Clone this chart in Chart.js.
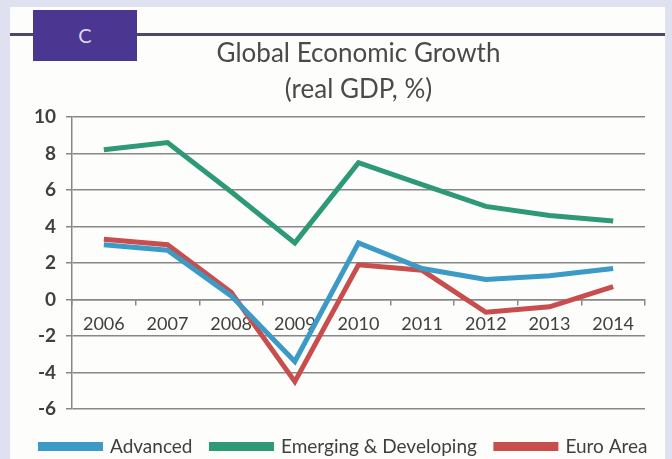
<!DOCTYPE html>
<html>
<head>
<meta charset="utf-8">
<script src="https://cdn.jsdelivr.net/npm/chart.js@4.4.0/dist/chart.umd.min.js"></script>
<style>
  html, body { margin: 0; padding: 0; width: 672px; height: 459px; overflow: hidden; background: #dfe0f0; }
  #panel { position: absolute; left: 10px; top: 7px; width: 655px; height: 452px; background: #fdfdfb; }
  #rule { position: absolute; left: 10px; top: 33px; width: 655px; height: 3px; background: #4a4872; }
  #tag { position: absolute; left: 33px; top: 10px; width: 104px; height: 51px; background: #4b3791;
         color: #ddd6f4; font: 20px Lato, sans-serif; text-align: center; line-height: 51px; }
  #wrap { position: absolute; left: 16px; top: 0; width: 656px; height: 466px; }
</style>
</head>
<body>
<div id="panel"></div>
<div id="rule"></div>
<div id="tag">C</div>
<div id="wrap"><canvas id="growth" width="656" height="466"></canvas></div>
<script>
const years = ['2006', '2007', '2008', '2009', '2010', '2011', '2012', '2013', '2014'];
const advanced = [3.0, 2.7, 0.2, -3.4, 3.1, 1.7, 1.1, 1.3, 1.7];
const emerging = [8.2, 8.6, 5.9, 3.1, 7.5, 6.3, 5.1, 4.6, 4.3];
const euroArea = [3.3, 3.0, 0.4, -4.5, 1.9, 1.6, -0.7, -0.4, 0.7];

const gridGrey = '#878787';
const textGrey = '#404040';

function series(label, data, color) {
  return {
    label: label,
    data: data,
    borderColor: color,
    backgroundColor: color,
    borderWidth: 5,
    pointRadius: 0,
    tension: 0
  };
}

new Chart(document.getElementById('growth'), {
  type: 'line',
  data: {
    labels: years,
    datasets: [
      series('Advanced', advanced, '#3b9ac6'),
      series('Emerging & Developing', emerging, '#2e9977'),
      series('Euro Area', euroArea, '#c84e4e')
    ]
  },
  options: {
    responsive: false,
    animation: false,
    layout: { padding: 0 },
    plugins: {
      tooltip: { enabled: false },
      title: {
        display: true,
        fullSize: false,
        text: ['Global Economic Growth', '(real GDP, %)'],
        color: '#4a4a4a',
        font: { family: 'Lato', size: 26, weight: 'normal', lineHeight: 36 / 26 },
        padding: { top: 36, bottom: 9 }
      },
      legend: {
        position: 'bottom',
        labels: {
          color: textGrey,
          font: { family: 'Lato', size: 19 },
          boxWidth: 60,
          boxHeight: 4,
          padding: 19
        }
      }
    },
    scales: {
      x: {
        position: { y: 0 },
        offset: true,
        grid: { drawOnChartArea: false, offset: true, tickLength: 5, color: gridGrey, lineWidth: 1.5 },
        border: { color: gridGrey, width: 1.5 },
        ticks: { color: textGrey, font: { family: 'Lato', size: 18 }, padding: 9, maxRotation: 0 }
      },
      spacer: {
        type: 'category',
        position: 'bottom',
        grid: { display: false },
        border: { display: false },
        ticks: { display: false },
        afterFit: function(s) { s.height = 9; }
      },
      y: {
        min: -6,
        max: 10,
        grid: { color: gridGrey, lineWidth: 1.5, tickLength: 6 },
        border: { color: gridGrey, width: 1.5 },
        ticks: { stepSize: 2, color: textGrey, font: { family: 'Lato', size: 19, weight: 'bold' }, padding: 10 },
        afterFit: function(s) { s.width = 56; }
      },
      edge: {
        type: 'linear',
        position: 'right',
        grid: { display: false },
        border: { display: false },
        ticks: { display: false },
        afterFit: function(s) { s.width = 27; }
      }
    }
  }
});
</script>
</body>
</html>
